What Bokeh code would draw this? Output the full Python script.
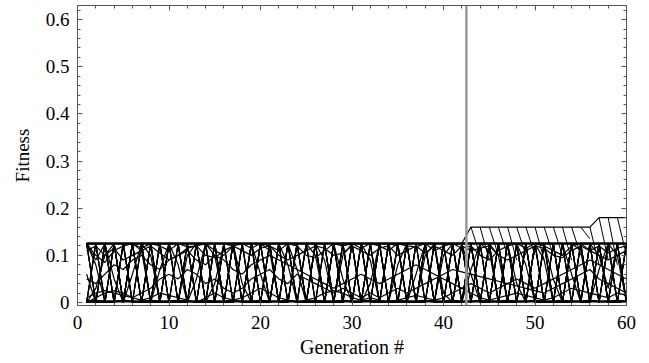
from bokeh.plotting import figure
from bokeh.models import Range1d, SingleIntervalTicker, LinearAxis, Span
from bokeh.embed import file_html
from bokeh.resources import INLINE

H = 0.125

generations = list(range(1, 61))

# zig-zag individuals (fitness per generation)
z1 = [H,0,H,0,H,0,H,0,H,0, H,0,H,0,H,0,H,0,H,0, H,0,H,0,H,0,H,0,H,0, H,0,H,0,H,0,H,0,H,0, H,0,H,0,H,0,H,0,H,0, H,0,H,0,H,0,H,0,H,0]
z2 = [0,H,0,H,0,H,0,H,0,H, 0,H,0,H,0,H,0,H,0,H, 0,H,0,H,0,H,0,H,0,H, 0,H,0,H,0,H,0,H,0,H, 0,H,0,H,0,H,0,H,0,H, 0,H,0,H,0,H,0,H,0,H]
z3 = [0.06,0,H,0,H,H,0,H,0,H, H,0,H,0,0,H,0,H,H,0, H,0,0,H,0,H,H,0,H,0, 0,H,0,H,H,0,H,0,H,0, H,H,0,H,0,H,0,0,H,0, H,0,H,H,0,H,0,H,0,H]
z4 = [H,0.08,0,H,0,H,0,0,H,0, 0,H,0,H,H,0,H,0,0,H, 0,H,H,0,H,0,0,H,0,H, H,0,H,0,0,H,0,H,0,H, 0,0,H,0,H,0,H,H,0,H, 0,H,0,0,H,0,H,0,H,0]
z5 = [0,H,H,0,H,0,H,0,0,H, 0,H,0,0,H,0,H,0,H,H, 0,H,0,H,0,0,H,0,H,0, H,0,H,H,0,H,0,0,H,0, H,0,H,0,0,H,0,H,0,H, H,0,H,0,H,H,0,H,0,0]
z6 = [H,0,0,H,0,H,H,0,H,0, H,0,H,H,0,H,0,H,0,0, H,0,H,0,H,H,0,H,0,H, 0,H,0,0,H,0,H,H,0,H, 0,H,0,H,H,0,H,0,H,0, 0,H,0,H,0,0,H,0,H,H]
z7 = [0,0,H,0,H,0,0,H,0,H, H,0,H,0,H,0,0,H,0,H, 0,H,0,H,0,H,0,0,H,0, H,0,H,0,H,H,0,H,0,0, H,0,H,0,H,0,H,0,H,0, H,H,0,H,0,H,0,H,0,H]
z8 = [H,H,0,H,0,H,0,H,H,0, 0,H,0,H,0,H,H,0,H,0, H,0,H,0,0,H,0,H,0,H, 0,H,0,H,0,0,H,0,H,H, 0,H,0,H,0,H,0,H,0,H, 0,0,H,0,H,0,H,0,H,0]
z9 = [0,H,0,0,H,0,H,0,H,H, 0,0,H,0,H,0,H,0,0,H, H,0,H,H,0,H,0,H,H,0, H,0,0,H,0,H,0,H,0,H, H,0,H,0,H,0,0,H,0,H, 0,H,0,H,H,0,H,0,H,0]
z10 = [H,0,H,H,0,H,0,H,0,0, H,H,0,H,0,0,H,0,H,0, 0,H,0,H,H,0,H,0,0,H, 0,H,H,0,H,0,0,H,H,0, 0,H,H,0,0,H,H,0,H,0, H,0,0,H,0,H,H,0,0,H]
z11 = [H,0.09,H,0.05,0,H,0.11,0,0.07,H, 0,0.1,H,0,0.04,H,0.12,0,H,0.06, 0,H,0.08,0,H,0.1,0,H,0.05,0, H,0.09,0,H,0.12,0,0.06,H,0,0.1,
       H,0,0.07,H,0.11,0,H,0.04,0,H, 0.09,0,H,0.06,0,H,0.1,0.03,H,0]
z12 = [0,0.03,0.1,H,0,0.06,H,0.1,0,H, 0.08,0,0.05,H,0.1,0,H,0.04,0,H, 0.11,0,H,0.07,0,H,0.09,0,0.1,H, 0,0.04,H,0,0.08,H,0,0.1,H,0.02,
       0,H,0.06,0,H,0.1,0,H,0.08,0, H,0.05,0,H,0.11,0,0.07,H,0.1,0]

# slowly wandering individuals
w1 = [0.01,0.02,0.025,0.02,0.015,0.01,0.02,0.03,0.05,0.06, 0.05,0.07,0.06,0.04,0.05,0.03,0.02,0.03,0.05,0.06,
      0.07,0.05,0.04,0.06,0.05,0.04,0.03,0.02,0.03,0.02, 0.01,0.02,0.01,0.02,0.03,0.02,0.03,0.04,0.05,0.06,
      0.07,0.065,0.06,0.055,0.05,0.045,0.04,0.035,0.03,0.025, 0.02,0.03,0.04,0.05,0.06,0.07,0.05,0.04,0.03,0.02]
w2 = [H,0.1,0.085,0.11,0.12,H,0.115,H,0.12,0.11, H,0.118,0.12,H,0.11,0.1,0.12,H,0.115,H,
      0.12,0.11,H,0.12,0.1,0.095,0.11,H,0.12,H, 0.115,H,0.12,0.11,H,0.12,0.118,H,0.11,0.12,
      H,0.115,0.12,0.1,0.09,0.11,0.12,H,0.115,H, 0.12,0.11,0.1,0.12,H,0.11,0.12,0.105,0.115,0.12]
w3 = [0.05,0.04,0.06,0.08,0.07,0.09,0.1,0.08,0.07,0.09, 0.1,0.11,0.09,0.08,0.1,0.09,0.07,0.06,0.08,0.09,
      0.1,0.09,0.08,0.07,0.06,0.05,0.04,0.03,0.04,0.05, 0.06,0.05,0.04,0.05,0.06,0.07,0.08,0.07,0.06,0.05,
      0.04,0.03,0.04,0.03,0.02,0.03,0.04,0.05,0.04,0.03, 0.04,0.05,0.06,0.07,0.08,0.09,0.08,0.07,0.06,0.05]
w4 = [0.0,0.01,0.02,0.025,0.02,0.01,0.005,0.01,0.02,0.015, 0.01,0.005,0.0,0.01,0.02,0.01,0.005,0.01,0.02,0.03,
      0.02,0.01,0.005,0.0,0.005,0.01,0.02,0.025,0.02,0.01, 0.005,0.01,0.005,0.0,0.005,0.01,0.015,0.01,0.005,0.01,
      0.02,0.03,0.02,0.01,0.005,0.01,0.015,0.02,0.015,0.01, 0.005,0.01,0.02,0.03,0.025,0.02,0.015,0.01,0.02,0.015]
w5 = [0.11,0.12,0.1,0.115,0.09,0.1,0.11,0.12,0.105,0.09, 0.1,0.115,0.12,0.1,0.095,0.11,0.12,0.11,0.1,0.115,
      0.12,0.1,0.09,0.1,0.11,0.12,0.115,0.1,0.105,0.12, 0.11,0.1,0.115,0.12,0.1,0.11,0.12,0.105,0.12,0.11,
      0.1,0.12,0.11,0.115,0.12,0.1,0.09,0.1,0.11,0.12, 0.115,0.1,0.095,0.11,0.12,0.11,0.1,0.09,0.1,0.11]

# steady individuals at the bottom and at the 0.125 plateau
low = [0.002,0.003,0.002,0.002,0.003,0.002,0.002,0.003,0.002,0.002, 0.003,0.002,0.002,0.003,0.002,0.002,0.003,0.002,0.002,0.003,
       0.002,0.002,0.003,0.002,0.002,0.003,0.002,0.002,0.003,0.002, 0.002,0.003,0.002,0.002,0.003,0.002,0.002,0.003,0.002,0.002,
       0.003,0.002,0.002,0.003,0.002,0.002,0.003,0.002,0.002,0.003, 0.002,0.002,0.003,0.002,0.002,0.003,0.002,0.002,0.003,0.002]
plateau = [H,H,H,H,H,H,H,H,H,H, H,H,H,H,H,H,H,H,H,H, H,H,H,H,H,H,H,H,H,H,
           H,H,H,H,H,H,H,H,H,H, H,H,H,H,H,H,H,H,H,H, H,H,H,H,H,H,H,H,H,H]
best = [H,H,H,H,H,H,H,H,H,H, H,H,H,H,H,H,H,H,H,H, H,H,H,H,H,H,H,H,H,H,
        H,H,H,H,H,H,H,H,H,H, H,H,0.16,0.16,0.16,0.16,0.16,0.16,0.16,0.16,
        0.16,0.16,0.16,0.16,0.16,0.16,0.18,0.18,0.18,0.18]

# individuals dropping from the best level to the next generation
drop_gen = [43,44,45,46,47,48,49,50,51,52,53,54,55,56,57,58,59]
drop_to  = [0.10,0.09,0.10,0.10,0.09,0.10,0.10,0.09,0.10,0.10,0.09,0.10,0.135,0.08,0.09,0.08,0.10]

marker_gen = 42.5

FONT = "'Liberation Serif', 'Times New Roman', serif"
FRAME = "#555555"

p = figure(width=649, height=363, output_backend="svg", toolbar_location=None,
           x_range=Range1d(0, 60), y_range=Range1d(-0.0064, 0.630),
           min_border_left=77, min_border_right=23, min_border_top=5, min_border_bottom=58,
           x_axis_location=None, y_axis_location=None)
p.grid.visible = False
p.outline_line_color = FRAME
p.outline_line_width = 1
p.background_fill_color = "white"
p.border_fill_color = "white"

series = [z1, z2, z3, z4, z5, z6, z7, z8, z9, z10, z11, z12, w1, w2, w3, w4, w5]
p.multi_line(xs=[generations] * len(series), ys=series, line_color="black", line_width=1.2)
p.line(generations, low, line_color="black", line_width=2.5)
p.line(generations, plateau, line_color="black", line_width=2.5)
p.line(generations, best, line_color="black", line_width=1.2)

best_at = dict(zip(generations, best))
p.multi_line(xs=[[g, g + 1] for g in drop_gen],
             ys=[[best_at[g], d] for g, d in zip(drop_gen, drop_to)],
             line_color="black", line_width=1)

p.add_layout(Span(location=marker_gen, dimension="height", line_color="#999999", line_width=2.5))

def style(ax, labels=True):
    ax.axis_line_color = None
    ax.major_tick_line_color = FRAME
    ax.minor_tick_line_color = FRAME
    ax.major_tick_in = 5
    ax.major_tick_out = 0
    ax.minor_tick_in = 3
    ax.minor_tick_out = 0
    if labels:
        ax.major_label_text_font = FONT
        ax.major_label_text_font_size = "19px"
        ax.major_label_text_color = "black"
        ax.axis_label_text_font = FONT
        ax.axis_label_text_font_size = "19px"
        ax.axis_label_text_font_style = "normal"
        ax.axis_label_text_color = "black"
    else:
        ax.major_label_text_font_size = "0px"
        ax.major_label_text_color = None
        ax.major_label_standoff = 0

xt = SingleIntervalTicker(interval=10, num_minor_ticks=5)
yt = SingleIntervalTicker(interval=0.1, num_minor_ticks=5)

xb = LinearAxis(ticker=xt, axis_label="Generation #")
style(xb)
xb.axis_label_text_font_size = "20px"
xb.major_label_standoff = 10
xb.axis_label_standoff = 4
p.add_layout(xb, "below")

yl = LinearAxis(ticker=yt, axis_label="Fitness", major_label_overrides={0: "0"})
style(yl)
yl.major_label_standoff = 8
yl.axis_label_standoff = 10
p.add_layout(yl, "left")

xtop = LinearAxis(ticker=xt)
style(xtop, labels=False)
p.add_layout(xtop, "above")

yr = LinearAxis(ticker=yt)
style(yr, labels=False)
p.add_layout(yr, "right")

open("out.html", "w").write(file_html(p, INLINE))
